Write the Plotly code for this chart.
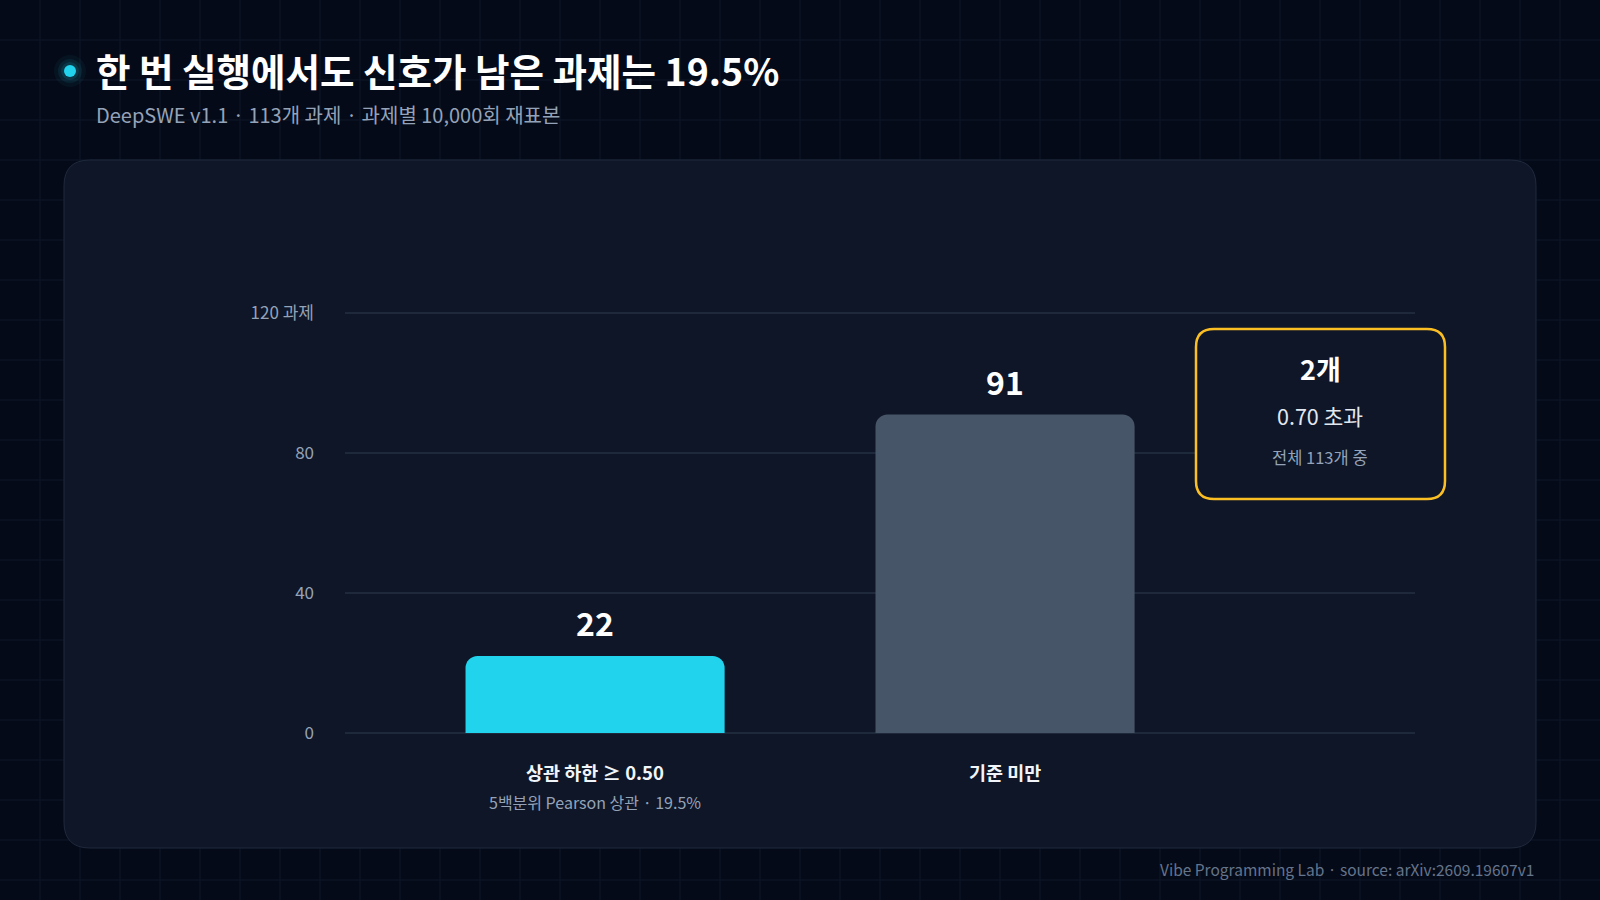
import plotly.graph_objects as go

# ---- data ----
categories = ["상관 하한 ≥ 0.50", "기준 미만"]
subtitles = ["5백분위 Pearson 상관 · 19.5%", ""]
values = [22, 91]
bar_colors = ["#22d3ee", "#475569"]
y_ticks = [0, 40, 80, 120]
y_tick_labels = ["0", "40", "80", "120 과제"]
callout_lines = ["2개", "0.70 초과", "전체 113개 중"]

title = "한 번 실행에서도 신호가 남은 과제는 19.5%"
subtitle = "DeepSWE v1.1 · 113개 과제 · 과제별 10,000회 재표본"
footer = "Vibe Programming Lab · source: arXiv:2609.19607v1"

FONT = "Noto Sans CJK KR"
BG = "#050a18"
CARD = "#0f1628"

# ---- layout geometry (pixels) ----
W, H = 1600, 900
Y_MAX = 122
L, R, B = 345, 185, 167
T = int(round((H - B) - 420 * Y_MAX / 120))
pw, ph = W - L - R, H - T - B


def px(x):
    return (x - L) / pw


def py(y):
    return (H - B - y) / ph


def rounded_rect(x0, y0, x1, y1, r):
    pts = [
        f"M {px(x0 + r)},{py(y0)}",
        f"L {px(x1 - r)},{py(y0)}",
        f"Q {px(x1)},{py(y0)} {px(x1)},{py(y0 + r)}",
        f"L {px(x1)},{py(y1 - r)}",
        f"Q {px(x1)},{py(y1)} {px(x1 - r)},{py(y1)}",
        f"L {px(x0 + r)},{py(y1)}",
        f"Q {px(x0)},{py(y1)} {px(x0)},{py(y1 - r)}",
        f"L {px(x0)},{py(y0 + r)}",
        f"Q {px(x0)},{py(y0)} {px(x0 + r)},{py(y0)}",
        "Z",
    ]
    return " ".join(pts)


shapes = []

# background grid
segs = []
for gx in range(40, W, 40):
    segs.append(f"M {px(gx)},{py(0)} L {px(gx)},{py(H)}")
for gy in range(40, H, 40):
    segs.append(f"M {px(0)},{py(gy)} L {px(W)},{py(gy)}")
shapes.append(dict(type="path", xref="paper", yref="paper", path=" ".join(segs),
                   line=dict(color="#0e1729", width=1), layer="below"))

# card
shapes.append(dict(type="path", xref="paper", yref="paper",
                   path=rounded_rect(64, 160, 1536, 848, 26),
                   fillcolor=CARD, line=dict(color="#1f2a3d", width=1), layer="below"))

# title dot with glow
cx, cy = 70, 71
for rr, op in [(16, 0.05), (12, 0.08), (9, 0.12)]:
    shapes.append(dict(type="circle", xref="paper", yref="paper",
                       x0=px(cx - rr), x1=px(cx + rr), y0=py(cy + rr), y1=py(cy - rr),
                       fillcolor="#22d3ee", opacity=op, line=dict(width=0)))
shapes.append(dict(type="circle", xref="paper", yref="paper",
                   x0=px(cx - 6), x1=px(cx + 6), y0=py(cy + 6), y1=py(cy - 6),
                   fillcolor="#22d3ee", line=dict(width=0)))

# callout box
shapes.append(dict(type="path", xref="paper", yref="paper",
                   path=rounded_rect(1196, 329, 1445, 499, 18),
                   fillcolor=CARD, line=dict(color="#fbbf24", width=2.5)))

annotations = []
annotations.append(dict(text=title, x=px(94), y=py(69), xref="paper", yref="paper",
                        xanchor="left", yanchor="middle", showarrow=False,
                        font=dict(family=FONT, size=37.5, color="#ffffff", weight=700)))
annotations.append(dict(text=subtitle, x=px(94), y=py(115), xref="paper", yref="paper",
                        xanchor="left", yanchor="middle", showarrow=False,
                        font=dict(family=FONT, size=20, color="#94a3b8")))
annotations.append(dict(text=footer, x=px(1536), y=py(869), xref="paper", yref="paper",
                        xanchor="right", yanchor="middle", showarrow=False,
                        font=dict(family=FONT, size=15.5, color="#64748b")))

# value labels
for c, v in zip(categories, values):
    annotations.append(dict(text=str(v), x=c, y=v, xref="x", yref="y",
                            xanchor="center", yanchor="middle", yshift=34, showarrow=False,
                            font=dict(family=FONT, size=32, color="#ffffff", weight=700)))
# category labels
for c, s in zip(categories, subtitles):
    annotations.append(dict(text=c, x=c, y=0, xref="x", yref="y",
                            xanchor="center", yanchor="middle", yshift=-39, showarrow=False,
                            font=dict(family=FONT, size=18.5, color="#f1f5f9", weight=700)))
    if s:
        annotations.append(dict(text=s, x=c, y=0, xref="x", yref="y",
                                xanchor="center", yanchor="middle", yshift=-69, showarrow=False,
                                font=dict(family=FONT, size=16, color="#94a3b8")))

# callout text
box_cx = px(1320)
annotations.append(dict(text=callout_lines[0], x=box_cx, y=py(368), xref="paper", yref="paper",
                        xanchor="center", yanchor="middle", showarrow=False,
                        font=dict(family=FONT, size=27, color="#ffffff", weight=700)))
annotations.append(dict(text=callout_lines[1], x=box_cx, y=py(415), xref="paper", yref="paper",
                        xanchor="center", yanchor="middle", showarrow=False,
                        font=dict(family=FONT, size=21.5, color="#e2e8f0")))
annotations.append(dict(text=callout_lines[2], x=box_cx, y=py(457), xref="paper", yref="paper",
                        xanchor="center", yanchor="middle", showarrow=False,
                        font=dict(family=FONT, size=16.5, color="#94a3b8")))

fig = go.Figure(go.Bar(
    x=categories, y=values, width=0.632,
    marker=dict(color=bar_colors, cornerradius=12, line=dict(width=0)),
    hoverinfo="skip",
))

fig.update_layout(
    width=W, height=H,
    margin=dict(l=L, r=R, t=T, b=B, autoexpand=False),
    paper_bgcolor=BG, plot_bgcolor="rgba(0,0,0,0)",
    showlegend=False,
    shapes=shapes, annotations=annotations,
    font=dict(family=FONT),
    xaxis=dict(range=[-0.61, 2.0], showticklabels=False, showgrid=False,
               zeroline=False, showline=False, fixedrange=True),
    yaxis=dict(range=[0, Y_MAX], tickvals=y_ticks, ticktext=y_tick_labels,
               showgrid=True, gridcolor="#1e293b", gridwidth=1.5,
               zeroline=True, zerolinecolor="#1e293b", zerolinewidth=1.5,
               showline=False, ticks="", ticklabelstandoff=30,
               tickfont=dict(family=FONT, size=17, color="#94a3b8"), fixedrange=True),
)

fig.write_html(
    "out.html",
    config={"displayModeBar": False},
    post_script="document.body.style.margin='0';document.body.style.overflow='hidden';document.body.style.background='" + BG + "';",
)
